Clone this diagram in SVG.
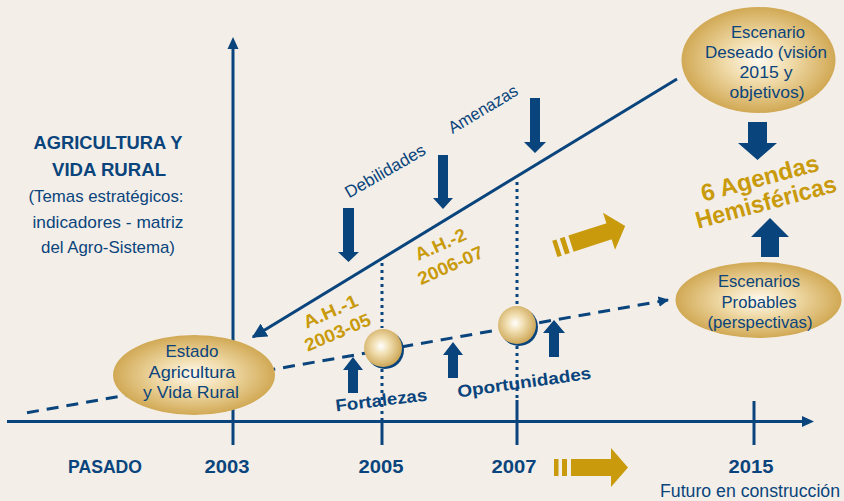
<svg xmlns="http://www.w3.org/2000/svg" width="844" height="501" viewBox="0 0 844 501">
<defs>
<radialGradient id="gEll" cx="0.5" cy="0.5" r="0.5">
<stop offset="0" stop-color="#fffaf0"/>
<stop offset="0.45" stop-color="#efd9a6"/>
<stop offset="1" stop-color="#d1a955"/>
</radialGradient>
<radialGradient id="gSph" cx="0.45" cy="0.45" r="0.6">
<stop offset="0" stop-color="#ffffff"/>
<stop offset="0.35" stop-color="#f2e0b4"/>
<stop offset="1" stop-color="#c9a04c"/>
</radialGradient>
<marker id="ah" viewBox="0 0 10 10" refX="9" refY="5" markerWidth="5" markerHeight="5" orient="auto" markerUnits="strokeWidth">
<path d="M0,0 L10,5 L0,10 Z" fill="#0a447c"/>
</marker>
<marker id="ahs" viewBox="0 0 10 10" refX="9" refY="5" markerWidth="3.5" markerHeight="3.5" orient="auto" markerUnits="strokeWidth">
<path d="M0,0 L10,5 L0,10 Z" fill="#0a447c"/>
</marker>
</defs>
<style>
.bl{fill:#0a447c}
.gd{fill:#c99a0c}
.ln{stroke:#0a447c;stroke-width:3;fill:none}
.dot{stroke:#0a447c;stroke-width:3;fill:none;stroke-dasharray:3 4}
.t{font-family:"Liberation Sans",Arial,sans-serif;fill:#0a447c}
.b{font-weight:bold}
.g{fill:#c99a0c}
</style>
<rect width="844" height="501" fill="#f3efe8"/>

<g id="connectors">
<!-- axes -->
<line class="ln" x1="233" y1="445" x2="233" y2="46"/>
<path class="bl" d="M233,37 L227.5,49 L238.5,49 Z"/>
<line class="ln" x1="7" y1="421.5" x2="804" y2="421.5"/>
<path class="bl" d="M814,421.5 L802,416 L802,427 Z"/>
<!-- ticks -->
<line class="ln" x1="382" y1="421" x2="382" y2="445"/>
<line class="ln" x1="517" y1="400" x2="517" y2="445"/>
<line class="ln" x1="754" y1="401" x2="754" y2="445"/>
<!-- dotted verticals -->
<line class="dot" x1="382" y1="263" x2="382" y2="328"/>
<line class="dot" x1="382" y1="369" x2="382" y2="421"/>
<line class="dot" x1="517" y1="182" x2="517" y2="305"/>
<line class="dot" x1="517" y1="346" x2="517" y2="400"/>
<!-- main diagonal -->
<line class="ln" x1="677" y1="79" x2="253" y2="337" stroke-width="3" marker-end="url(#ah)"/>
<!-- dashed trend -->
<line class="ln" x1="27" y1="412.7" x2="668" y2="300" stroke-dasharray="12 8" marker-end="url(#ahs)"/>
<!-- down arrows -->
<path class="bl" d="M343,208 H354 V252 H359 L348.5,262 L338,252 H343 Z"/>
<path class="bl" d="M438,155 H448 V198 H453 L443,209 L433,198 H438 Z"/>
<path class="bl" d="M530,98 H540 V142 H546 L535,153 L524,142 H530 Z"/>
<!-- up arrows -->
<path class="bl" d="M348,393 V370 H343 L353,357 L363,370 H358 V393 Z"/>
<path class="bl" d="M448,378 V355 H443 L453,342 L463,355 H458 V378 Z"/>
<path class="bl" d="M549,357 V333 H543 L554,320 L565,333 H559 V357 Z"/>
<!-- agenda arrows -->
<path class="bl" d="M748,122 H767 V143 H777 L757.5,160 L738,143 H748 Z"/>
<path class="bl" d="M761,257 V237 H751 L770,218 L789,237 H779 V257 Z"/>
<!-- gold striped arrows -->
<g id="goldArrowBottom" class="gd">
<rect x="554" y="459" width="4.5" height="17"/>
<rect x="562" y="459" width="5" height="17"/>
<rect x="571" y="459" width="41" height="17"/>
<path d="M611,448 L628,467.5 L611,487 Z"/>
</g>
<g id="goldArrowTop" class="gd" transform="translate(-1,-230) rotate(-18,591,467.5)">
<rect x="554" y="459" width="4.5" height="17"/>
<rect x="562" y="459" width="5" height="17"/>
<rect x="571" y="459" width="41" height="17"/>
<path d="M611,448 L628,467.5 L611,487 Z"/>
</g>
</g>

<g id="sphere2005">
<circle cx="385" cy="350" r="19" fill="#0a447c"/>
<circle cx="383" cy="348" r="19" fill="url(#gSph)"/>
</g>
<g id="sphere2007">
<circle cx="519" cy="327" r="19" fill="#0a447c"/>
<circle cx="517" cy="325" r="19" fill="url(#gSph)"/>
</g>

<g id="estado">
<ellipse cx="194" cy="375" rx="81" ry="40" fill="url(#gEll)"/>
<text class="t" font-size="17" text-anchor="middle" x="192" y="357" textLength="53" lengthAdjust="spacingAndGlyphs">Estado</text>
<text class="t" font-size="17" text-anchor="middle" x="192" y="378" textLength="87" lengthAdjust="spacingAndGlyphs">Agricultura</text>
<text class="t" font-size="17" text-anchor="middle" x="191" y="398" textLength="96" lengthAdjust="spacingAndGlyphs">y Vida Rural</text>
</g>

<g id="deseado">
<ellipse cx="758.5" cy="60" rx="77" ry="53" fill="url(#gEll)"/>
<text class="t" font-size="17" text-anchor="middle" x="768" y="38" textLength="74" lengthAdjust="spacingAndGlyphs">Escenario</text>
<text class="t" font-size="17" text-anchor="middle" x="766" y="58" textLength="122" lengthAdjust="spacingAndGlyphs">Deseado (visión</text>
<text class="t" font-size="17" text-anchor="middle" x="766" y="78" textLength="53" lengthAdjust="spacingAndGlyphs">2015 y</text>
<text class="t" font-size="17" text-anchor="middle" x="767" y="98" textLength="75" lengthAdjust="spacingAndGlyphs">objetivos)</text>
</g>

<g id="probables">
<ellipse cx="758.5" cy="300" rx="83" ry="38" fill="url(#gEll)"/>
<text class="t" font-size="17" text-anchor="middle" x="759" y="287" textLength="82" lengthAdjust="spacingAndGlyphs">Escenarios</text>
<text class="t" font-size="17" text-anchor="middle" x="759" y="308" textLength="75" lengthAdjust="spacingAndGlyphs">Probables</text>
<text class="t" font-size="17" text-anchor="middle" x="760" y="328" textLength="105" lengthAdjust="spacingAndGlyphs">(perspectivas)</text>
</g>

<g id="agendas">
<text class="t b g" font-size="24" text-anchor="middle" x="762" y="186" transform="rotate(-15,762,186)" textLength="121" lengthAdjust="spacingAndGlyphs">6 Agendas</text>
<text class="t b g" font-size="24" text-anchor="middle" x="768" y="210" transform="rotate(-15,768,210)" textLength="145" lengthAdjust="spacingAndGlyphs">Hemisféricas</text>
</g>

<g id="leftTitle">
<text class="t b" font-size="19" text-anchor="middle" x="108" y="149" textLength="149" lengthAdjust="spacingAndGlyphs">AGRICULTURA Y</text>
<text class="t b" font-size="19" text-anchor="middle" x="109" y="176" textLength="114" lengthAdjust="spacingAndGlyphs">VIDA RURAL</text>
<text class="t" font-size="17" text-anchor="middle" x="106" y="202" textLength="155" lengthAdjust="spacingAndGlyphs">(Temas estratégicos:</text>
<text class="t" font-size="17" text-anchor="middle" x="108" y="228" textLength="151" lengthAdjust="spacingAndGlyphs">indicadores - matriz</text>
<text class="t" font-size="17" text-anchor="middle" x="108" y="253" textLength="134" lengthAdjust="spacingAndGlyphs">del Agro-Sistema)</text>
</g>

<g id="labels">
<text class="t" font-size="17" text-anchor="middle" x="388" y="176" transform="rotate(-30,388,176)" textLength="90" lengthAdjust="spacingAndGlyphs">Debilidades</text>
<text class="t" font-size="17" text-anchor="middle" x="486" y="114" transform="rotate(-31,486,114)" textLength="78" lengthAdjust="spacingAndGlyphs">Amenazas</text>
<text class="t b g" font-size="18" text-anchor="middle" x="333" y="317" transform="rotate(-24,333,317)" textLength="58" lengthAdjust="spacingAndGlyphs">A.H.-1</text>
<text class="t b g" font-size="18" text-anchor="middle" x="340" y="338" transform="rotate(-23,340,338)" textLength="70" lengthAdjust="spacingAndGlyphs">2003-05</text>
<text class="t b g" font-size="18" text-anchor="middle" x="443" y="250" transform="rotate(-24,443,250)" textLength="54" lengthAdjust="spacingAndGlyphs">A.H.-2</text>
<text class="t b g" font-size="18" text-anchor="middle" x="453" y="271" transform="rotate(-24,453,271)" textLength="70" lengthAdjust="spacingAndGlyphs">2006-07</text>
<text class="t b" font-size="17" text-anchor="middle" x="382" y="406" transform="rotate(-7,382,406)" textLength="92" lengthAdjust="spacingAndGlyphs">Fortalezas</text>
<text class="t b" font-size="17" text-anchor="middle" x="525" y="388" transform="rotate(-8,525,388)" textLength="135" lengthAdjust="spacingAndGlyphs">Oportunidades</text>
</g>

<g id="axisLabels">
<text class="t b" font-size="19" text-anchor="middle" x="105" y="473" textLength="74" lengthAdjust="spacingAndGlyphs">PASADO</text>
<text class="t b" font-size="19" text-anchor="middle" x="227" y="473" textLength="45" lengthAdjust="spacingAndGlyphs">2003</text>
<text class="t b" font-size="19" text-anchor="middle" x="381" y="473" textLength="45" lengthAdjust="spacingAndGlyphs">2005</text>
<text class="t b" font-size="19" text-anchor="middle" x="514" y="473" textLength="45" lengthAdjust="spacingAndGlyphs">2007</text>
<text class="t b" font-size="19" text-anchor="middle" x="751" y="473" textLength="45" lengthAdjust="spacingAndGlyphs">2015</text>
<text class="t" font-size="18" text-anchor="middle" x="750" y="497" textLength="180" lengthAdjust="spacingAndGlyphs">Futuro en construcción</text>
</g>
</svg>
